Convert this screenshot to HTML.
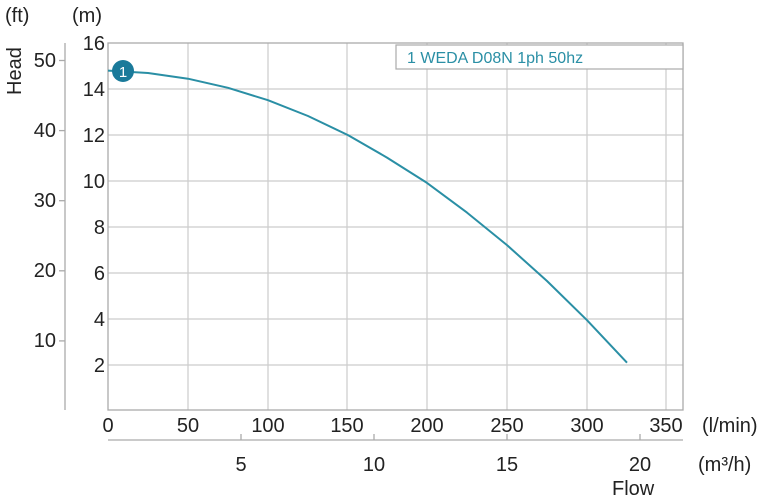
<!DOCTYPE html>
<html><head><style>body{margin:0;background:#fff}svg{display:block}</style></head>
<body>
<svg width="768" height="499" viewBox="0 0 768 499" xmlns="http://www.w3.org/2000/svg" font-family="Liberation Sans, sans-serif" font-size="20" fill="#222">
<g stroke="#ccc" stroke-width="1.2">
<line x1="188" y1="43" x2="188" y2="410"/><line x1="268" y1="43" x2="268" y2="410"/><line x1="347" y1="43" x2="347" y2="410"/><line x1="427" y1="43" x2="427" y2="410"/><line x1="507" y1="43" x2="507" y2="410"/><line x1="587" y1="43" x2="587" y2="410"/><line x1="666" y1="43" x2="666" y2="410"/>
<line x1="108" y1="89" x2="683" y2="89"/><line x1="108" y1="135" x2="683" y2="135"/><line x1="108" y1="181" x2="683" y2="181"/><line x1="108" y1="227" x2="683" y2="227"/><line x1="108" y1="273" x2="683" y2="273"/><line x1="108" y1="319" x2="683" y2="319"/><line x1="108" y1="365" x2="683" y2="365"/>
</g>
<rect x="108" y="43" width="575" height="367" fill="none" stroke="#aaa" stroke-width="1.3"/>
<g stroke="#aaa" stroke-width="1.3">
<line x1="65" y1="43" x2="65" y2="410"/><line x1="59" y1="60.5" x2="65" y2="60.5"/><line x1="59" y1="130.6" x2="65" y2="130.6"/><line x1="59" y1="200.7" x2="65" y2="200.7"/><line x1="59" y1="270.8" x2="65" y2="270.8"/><line x1="59" y1="340.9" x2="65" y2="340.9"/>
<line x1="108" y1="440" x2="683" y2="440"/><line x1="241" y1="434" x2="241" y2="440"/><line x1="374" y1="434" x2="374" y2="440"/><line x1="507" y1="434" x2="507" y2="440"/><line x1="640" y1="434" x2="640" y2="440"/>
</g>
<rect x="396" y="45" width="287" height="24" fill="#fff" stroke="#aaa" stroke-width="1.2"/>
<text x="407" y="63" font-size="16" fill="#2a8fa5">1 WEDA D08N 1ph 50hz</text>
<polyline fill="none" stroke="#2a8fa5" stroke-width="2" stroke-linejoin="round" points="108,70.6 148,73 188,78.7 228,87.8 268,100.2 308,116 348,135.1 387,157.6 427,182.9 467,212.6 507,245.1 547,281 587,320.2 627,362.7"/>
<circle cx="123" cy="71" r="11" fill="#1a7a9a"/>
<text x="123" y="77" font-size="15" fill="#fff" text-anchor="middle">1</text>
<g text-anchor="end">
<text x="105" y="50">16</text><text x="105" y="96">14</text><text x="105" y="142">12</text><text x="105" y="188">10</text><text x="105" y="234">8</text><text x="105" y="280">6</text><text x="105" y="326">4</text><text x="105" y="372">2</text>
<text x="56" y="67">50</text><text x="56" y="137">40</text><text x="56" y="207">30</text><text x="56" y="277">20</text><text x="56" y="347">10</text>
</g>
<text x="5" y="22">(ft)</text><text x="72" y="22">(m)</text>
<text transform="translate(21,95) rotate(-90)">Head</text>
<g text-anchor="middle">
<text x="108" y="432">0</text><text x="188" y="432">50</text><text x="268" y="432">100</text><text x="347" y="432">150</text><text x="427" y="432">200</text><text x="507" y="432">250</text><text x="587" y="432">300</text><text x="666" y="432">350</text>
<text x="241" y="471">5</text><text x="374" y="471">10</text><text x="507" y="471">15</text><text x="640" y="471">20</text>
</g>
<text x="702" y="432">(l/min)</text><text x="698" y="471">(m³/h)</text><text x="612" y="495">Flow</text>
</svg>
</body></html>
